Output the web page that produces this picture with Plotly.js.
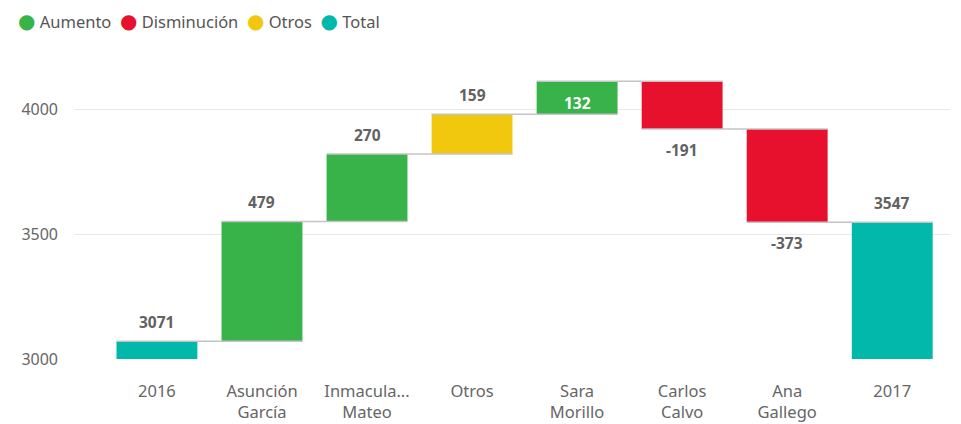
<!DOCTYPE html>
<html>
<head>
<meta charset="utf-8">
<script src="https://cdn.plot.ly/plotly-3.0.1.min.js"></script>
<style>html,body{margin:0;padding:0;background:#fff;}#chart{width:961px;height:424px;}</style>
</head>
<body>
<div id="chart"></div>
<script>
// ---- data ----
const categories = ['2016', 'Asunción García', 'Inmacula... Mateo', 'Otros', 'Sara Morillo', 'Carlos Calvo', 'Ana Gallego', '2017'];
const tickLabels = ['2016', 'Asunción<br>García', 'Inmacula...<br>Mateo', 'Otros', 'Sara<br>Morillo', 'Carlos<br>Calvo', 'Ana<br>Gallego', '2017'];
const values = [3071, 479, 270, 159, 132, -191, -373, 3547];
const kinds = ['total', 'aumento', 'aumento', 'otros', 'aumento', 'disminucion', 'disminucion', 'total'];
const legendNames = ['Aumento', 'Disminución', 'Otros', 'Total'];
const legendKinds = ['aumento', 'disminucion', 'otros', 'total'];
const yTicks = [3000, 3500, 4000];

// ---- styles ----
const colors = { aumento: '#37B34A', disminucion: '#E8112D', otros: '#F2C80F', total: '#01B8AA' };
const FONT = 'Noto Sans, Open Sans, DejaVu Sans, sans-serif';
const barWidth = 0.77;
const yRange = [3000, 4196];
const W = 961, H = 424;
const margin = { l: 75, r: 11, t: 60, b: 65 };
const plotW = W - margin.l - margin.r, plotH = H - margin.t - margin.b;
const unitsPerPx = (yRange[1] - yRange[0]) / plotH;

// ---- compute waterfall ----
const idx = categories.map((_, i) => i);
const bases = [], heights = [], starts = [], ends = [];
let running = 0;
values.forEach((v, i) => {
  if (kinds[i] === 'total') {
    bases.push(0); heights.push(v); starts.push(0); ends.push(v); running = v;
  } else {
    bases.push(running); heights.push(v); starts.push(running); running += v; ends.push(running);
  }
});

const traces = [];
traces.push({
  type: 'bar', x: idx, y: heights, base: bases, width: barWidth,
  marker: { color: kinds.map(k => colors[k]), line: { width: 0 } },
  showlegend: false, hoverinfo: 'skip'
});

// connectors
const cx = [], cy = [];
for (let i = 0; i < values.length - 1; i++) {
  cx.push(i - barWidth / 2, i + 1 + barWidth / 2, null);
  cy.push(ends[i], ends[i], null);
}
traces.push({
  type: 'scatter', mode: 'lines', x: cx, y: cy,
  line: { color: '#c4c4c4', width: 1.5 }, showlegend: false, hoverinfo: 'skip'
});

// value labels
const labelFont = { family: FONT, size: 15.5, color: '#626262', weight: 'bold' };
const annotations = values.map((v, i) => {
  const top = Math.max(starts[i], ends[i]);
  const labelOffset = 19.5;
  const fitsAbove = (ends[i] + (labelOffset + 8) * unitsPerPx) <= yRange[1];
  if (kinds[i] === 'disminucion') {
    return { x: i, y: ends[i], yshift: -21, text: String(v), showarrow: false, font: labelFont };
  }
  if (!fitsAbove) {
    return { x: i, y: (starts[i] + ends[i]) / 2, yshift: -5, text: String(v), showarrow: false,
      font: Object.assign({}, labelFont, { color: '#ffffff' }) };
  }
  return { x: i, y: top, yshift: labelOffset, text: String(v), showarrow: false, font: labelFont };
});

// legend (circle + name), drawn as text
const legendText = legendNames.map((n, j) =>
  '<span style="font-family:DejaVu Sans;font-size:20px;color:' + colors[legendKinds[j]] + '">\u25CF</span> ' + n
).join('\u00A0\u00A0');
annotations.push({
  xref: 'paper', yref: 'paper',
  x: (16 - margin.l) / plotW, xanchor: 'left',
  y: 1 + (margin.t - 21) / plotH, yanchor: 'middle',
  text: legendText, showarrow: false, align: 'left',
  font: { family: FONT, size: 16.5, color: '#555555' }
});

const layout = {
  width: W, height: H, margin: margin,
  paper_bgcolor: '#ffffff', plot_bgcolor: '#ffffff',
  font: { family: FONT, color: '#666666', size: 16 },
  showlegend: false,
  xaxis: {
    range: [-0.78, 7.55], tickvals: idx, ticktext: tickLabels, showgrid: false, zeroline: false,
    showline: false, ticks: '', ticklabelstandoff: 20, tickfont: { family: FONT, size: 16.5, color: '#666666' },
    fixedrange: true
  },
  yaxis: {
    range: yRange, tickvals: yTicks, ticktext: yTicks.map(String), showgrid: true, gridcolor: '#e8e8e8', gridwidth: 1,
    zeroline: false, showline: false, ticks: '', ticklabelstandoff: 16,
    tickfont: { family: FONT, size: 16, color: '#666666' }, fixedrange: true
  },
  annotations: annotations
};

Plotly.newPlot('chart', traces, layout, { displayModeBar: false, staticPlot: true });
</script>
</body>
</html>
